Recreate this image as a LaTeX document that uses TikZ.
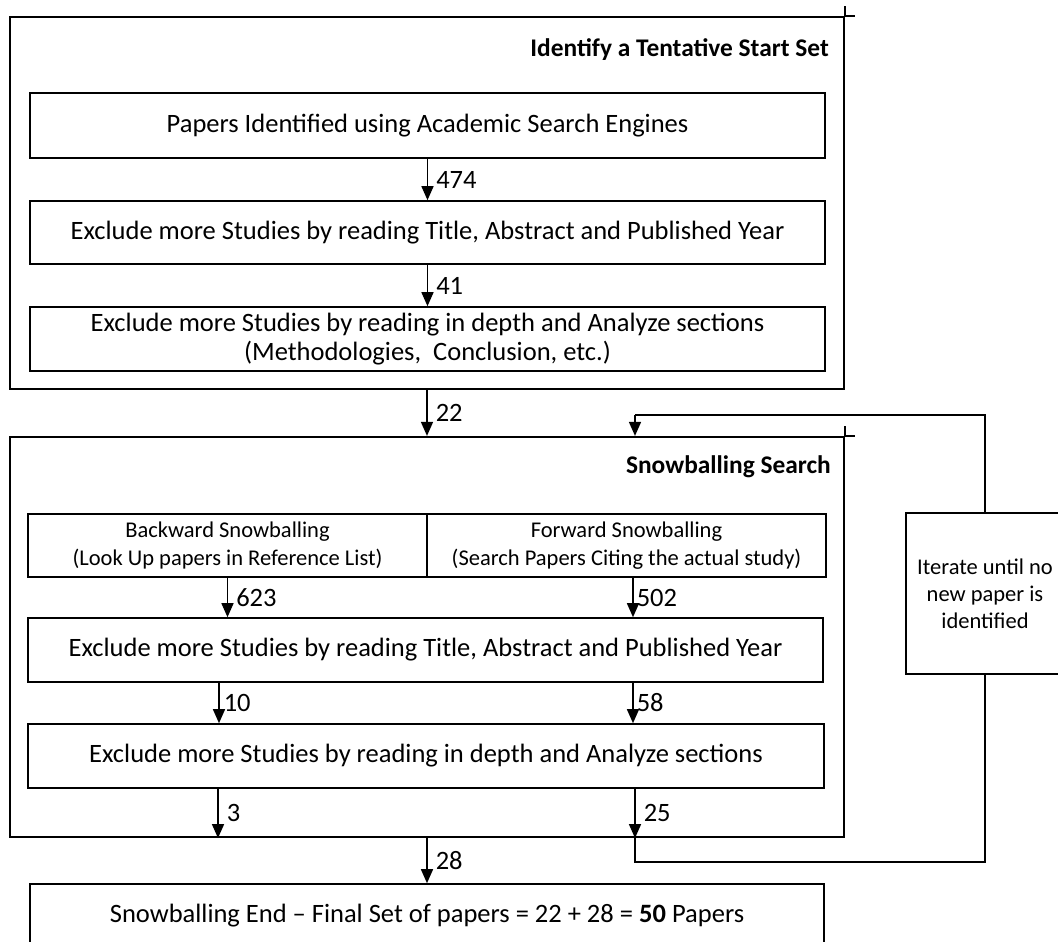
\documentclass[tikz,border=0pt]{standalone}
\usepackage{fontspec}
\setmainfont{Carlito}
\usetikzlibrary{arrows.meta}
\begin{document}
\begin{tikzpicture}[x=1pt,y=-1pt,
  outer/.style={draw, line width=2.2pt, minimum width=834pt, inner sep=0pt},
  box/.style={draw, line width=1.6pt, inner sep=0pt, align=center, font=\fontsize{26.5}{29}\selectfont},
  smallbox/.style={box, font=\fontsize{22.5}{28}\selectfont},
  title/.style={anchor=east, inner sep=0pt, font=\fontsize{25.4}{28}\selectfont\bfseries},
  arr/.style={line width=1.5pt, -{Triangle[width=12pt,length=14pt]}},
  line/.style={line width=1.5pt},
  lab/.style={anchor=west, inner sep=0pt, xshift=8pt, font=\fontsize{26.5}{30}\selectfont},
]
\path[use as bounding box, clip] (0,0) rectangle (1058,942);

% outer frames
\node[outer, minimum height=372pt] (o1) at (427,203) {};
\node[outer, minimum height=400pt] (o2) at (427,637) {};
\draw[line width=2.2pt] (o1.north east) -- ++(10,0) (o1.north east) -- ++(0,-10);
\draw[line width=2.2pt] (o2.north east) -- ++(10,0) (o2.north east) -- ++(0,-10);
\node[title] (t1) at (829,50) {Identify a Tentative Start Set};
\node[title] (t2) at (831,467) {Snowballing Search};

% first stage
\node[box, minimum width=795pt, minimum height=65pt] (a) at (427.5,125.5) {Papers Identified using Academic Search Engines};
\node[box, minimum width=795pt, minimum height=63pt] (b) at (427.5,232.5) {Exclude more Studies by reading Title, Abstract and Published Year};
\node[box, minimum width=795pt, minimum height=64pt] (c) at (427.5,339) {Exclude more Studies by reading in depth and Analyze sections\\(Methodologies,\ \ Conclusion, etc.)};

% snowballing stage
\node[smallbox, minimum width=399pt, minimum height=63pt] (bw) at (227.5,545.5) {Backward Snowballing\\(Look Up papers in Reference List)};
\node[smallbox, minimum width=399pt, minimum height=63pt] (fw) at (626.5,545.5) {Forward Snowballing\\(Search Papers Citing the actual study)};
\node[box, minimum width=795pt, minimum height=64pt] (d) at (425.5,650) {Exclude more Studies by reading Title, Abstract and Published Year};
\node[box, minimum width=796pt, minimum height=64pt] (e) at (426,756) {Exclude more Studies by reading in depth and Analyze sections};

% final
\node[box, minimum width=794pt, minimum height=64pt] (fin) at (427,916) {Snowballing End -- Final Set of papers = 22 + 28 = \textbf{50} Papers};

% iterate box
\node[smallbox, minimum width=158pt, minimum height=161pt, font=\fontsize{22.5}{27}\selectfont] (it) at (985,593.5) {Iterate until no\\new paper is\\identified};

% arrows stage 1
\draw[arr] (a.south) -- (b.north) node[lab, midway] {474};
\draw[arr] (b.south) -- (c.north) node[lab, midway] {41};
\draw[arr] (o1.south) -- (o2.north) node[lab, midway] {22};

% arrows stage 2
\draw[arr] (bw.south) -- (bw.south |- d.north) node[lab, midway] {623};
\coordinate (fwx) at ([xshift=6.5pt]fw.south);
\draw[arr] (fwx) -- (fwx |- d.north) node[lab, midway, xshift=-5pt] {502};
\coordinate (d10) at ([xshift=-206.5pt]d.south);
\draw[arr] (d10) -- (d10 |- e.north) node[lab, midway, xshift=-4pt] {10};
\coordinate (d58) at ([xshift=207.5pt]d.south);
\draw[arr] (d58) -- (d58 |- e.north) node[lab, midway, xshift=-5pt] {58};
\coordinate (e3) at ([xshift=-208pt]e.south);
\draw[arr] (e3) -- (e3 |- o2.south) node[lab, midway] {3};
\coordinate (e25) at ([xshift=209pt]e.south);
\draw[arr] (e25) -- (e25 |- o2.south) node[lab, midway] {25};
\draw[arr] (o2.south) -- (fin.north) node[lab, midway] {28};

% feedback loop
\coordinate (lb) at (635,862);
\coordinate (lt) at (635,415);
\draw[line] (e25 |- o2.south) -- (lb) -| (it.south);
\draw[line] (it.north) |- (lt);
\draw[arr] (lt) -- (lt |- o2.north);
\end{tikzpicture}
\end{document}
